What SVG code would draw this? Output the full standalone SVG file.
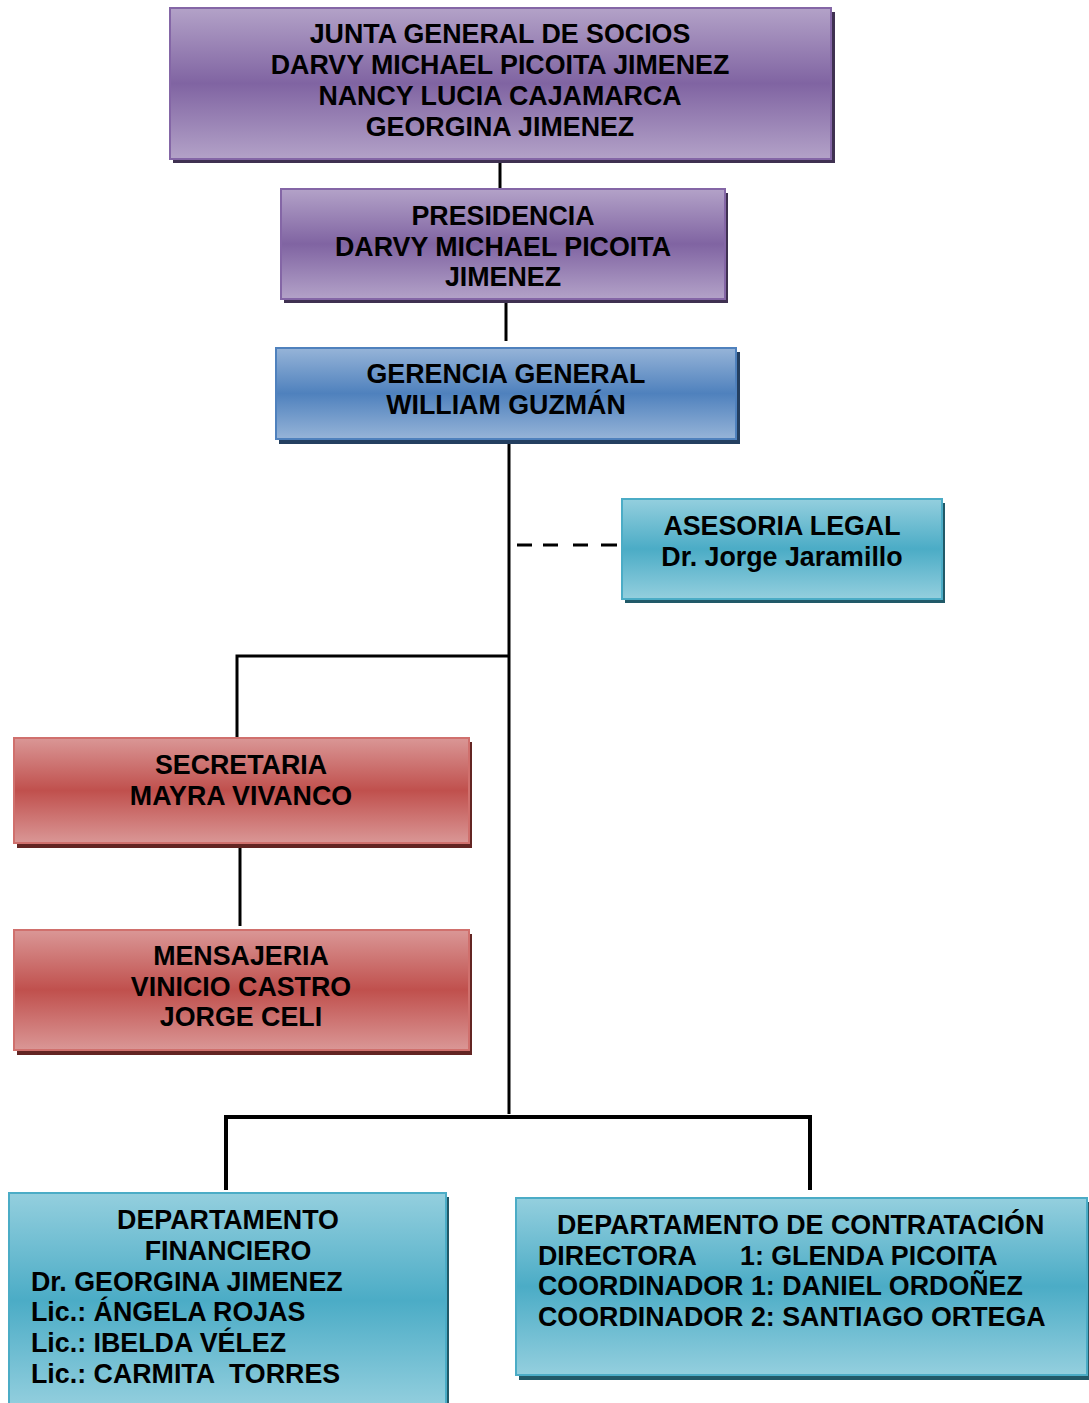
<svg xmlns="http://www.w3.org/2000/svg" width="1089" height="1403" viewBox="0 0 1089 1403">
<style>
text{font-family:"Liberation Sans",Arial,sans-serif;font-weight:bold;font-size:26.8px;fill:#000}
.c{text-anchor:middle}
.box{stroke-width:2}
.conn{stroke:#000;stroke-width:3;fill:none}
</style>
<defs>
<linearGradient id="gP" x1="0" y1="0" x2="0" y2="1"><stop offset="0" stop-color="#b3a2c8"/><stop offset="0.5" stop-color="#8064a2"/><stop offset="1" stop-color="#b3a2c8"/></linearGradient>
<linearGradient id="gB" x1="0" y1="0" x2="0" y2="1"><stop offset="0" stop-color="#96b4d8"/><stop offset="0.5" stop-color="#4f81bd"/><stop offset="1" stop-color="#96b4d8"/></linearGradient>
<linearGradient id="gA" x1="0" y1="0" x2="0" y2="1"><stop offset="0" stop-color="#94cfde"/><stop offset="0.5" stop-color="#4bacc6"/><stop offset="1" stop-color="#94cfde"/></linearGradient>
<linearGradient id="gR" x1="0" y1="0" x2="0" y2="1"><stop offset="0" stop-color="#da9796"/><stop offset="0.5" stop-color="#c0504d"/><stop offset="1" stop-color="#da9796"/></linearGradient>
</defs>

<g id="connectors">
<line class="conn" x1="500" y1="160" x2="500" y2="190"/>
<line class="conn" x1="506" y1="300" x2="506" y2="341"/>
<line class="conn" x1="509" y1="441" x2="509" y2="1114"/>
<path class="conn" d="M517 545h15M543 545h15M573 545h15M601 545h16"/>
<polyline class="conn" points="237,738 237,656 509,656"/>
<line class="conn" x1="240" y1="846" x2="240" y2="926"/>
<polyline class="conn" points="226,1190 226,1117 810,1117 810,1190" style="stroke-width:4"/>
</g>

<g id="junta">
<rect x="173" y="12" width="662" height="151" fill="#3f3151"/>
<rect class="box" x="170" y="8" width="661" height="151" fill="url(#gP)" stroke="#8466a6"/>
<text class="c" x="500" y="43">JUNTA GENERAL DE SOCIOS</text>
<text class="c" x="500" y="74">DARVY MICHAEL PICOITA JIMENEZ</text>
<text class="c" x="500" y="105">NANCY LUCIA CAJAMARCA</text>
<text class="c" x="500" y="136">GEORGINA JIMENEZ</text>
</g>

<g id="presidencia">
<rect x="284" y="193" width="444" height="110" fill="#3f3151"/>
<rect class="box" x="281" y="189" width="444" height="110" fill="url(#gP)" stroke="#8466a6"/>
<text class="c" x="503" y="225">PRESIDENCIA</text>
<text class="c" x="503" y="256">DARVY MICHAEL PICOITA</text>
<text class="c" x="503" y="286">JIMENEZ</text>
</g>

<g id="gerencia">
<rect x="279" y="352" width="461" height="92" fill="#243f60"/>
<rect class="box" x="276" y="348" width="460" height="91" fill="url(#gB)" stroke="#4f81bd"/>
<text class="c" x="506" y="383">GERENCIA GENERAL</text>
<text class="c" x="506" y="414">WILLIAM GUZMÁN</text>
</g>

<g id="asesoria">
<rect x="625" y="503" width="320" height="100" fill="#215968"/>
<rect class="box" x="622" y="499" width="320" height="100" fill="url(#gA)" stroke="#4bacc6"/>
<text class="c" x="782" y="535">ASESORIA LEGAL</text>
<text class="c" x="782" y="566">Dr. Jorge Jaramillo</text>
</g>

<g id="secretaria">
<rect x="17" y="742" width="455" height="106" fill="#632523"/>
<rect class="box" x="14" y="738" width="455" height="105" fill="url(#gR)" stroke="#d0706d"/>
<text class="c" x="241" y="774">SECRETARIA</text>
<text class="c" x="241" y="805">MAYRA VIVANCO</text>
</g>

<g id="mensajeria">
<rect x="17" y="934" width="455" height="121" fill="#632523"/>
<rect class="box" x="14" y="930" width="455" height="120" fill="url(#gR)" stroke="#d0706d"/>
<text class="c" x="241" y="965">MENSAJERIA</text>
<text class="c" x="241" y="996">VINICIO CASTRO</text>
<text class="c" x="241" y="1026">JORGE CELI</text>
</g>

<g id="financiero">
<rect x="12" y="1197" width="437" height="215" fill="#215968"/>
<rect class="box" x="9" y="1193" width="437" height="215" fill="url(#gA)" stroke="#4bacc6"/>
<text class="c" x="228" y="1229">DEPARTAMENTO</text>
<text class="c" x="228" y="1260">FINANCIERO</text>
<text x="31" y="1291">Dr. GEORGINA JIMENEZ</text>
<text x="31" y="1321">Lic.: ÁNGELA ROJAS</text>
<text x="31" y="1352">Lic.: IBELDA VÉLEZ</text>
<text x="31" y="1383" xml:space="preserve">Lic.: CARMITA  TORRES</text>
</g>

<g id="contratacion">
<rect x="519" y="1202" width="572" height="178" fill="#215968"/>
<rect class="box" x="516" y="1198" width="571" height="177" fill="url(#gA)" stroke="#4bacc6"/>
<text x="557" y="1234">DEPARTAMENTO DE CONTRATACIÓN</text>
<text x="538" y="1265">DIRECTORA<tspan x="740">1: GLENDA PICOITA</tspan></text>
<text x="538" y="1295">COORDINADOR 1: DANIEL ORDOÑEZ</text>
<text x="538" y="1326">COORDINADOR 2: SANTIAGO ORTEGA</text>
</g>
</svg>
